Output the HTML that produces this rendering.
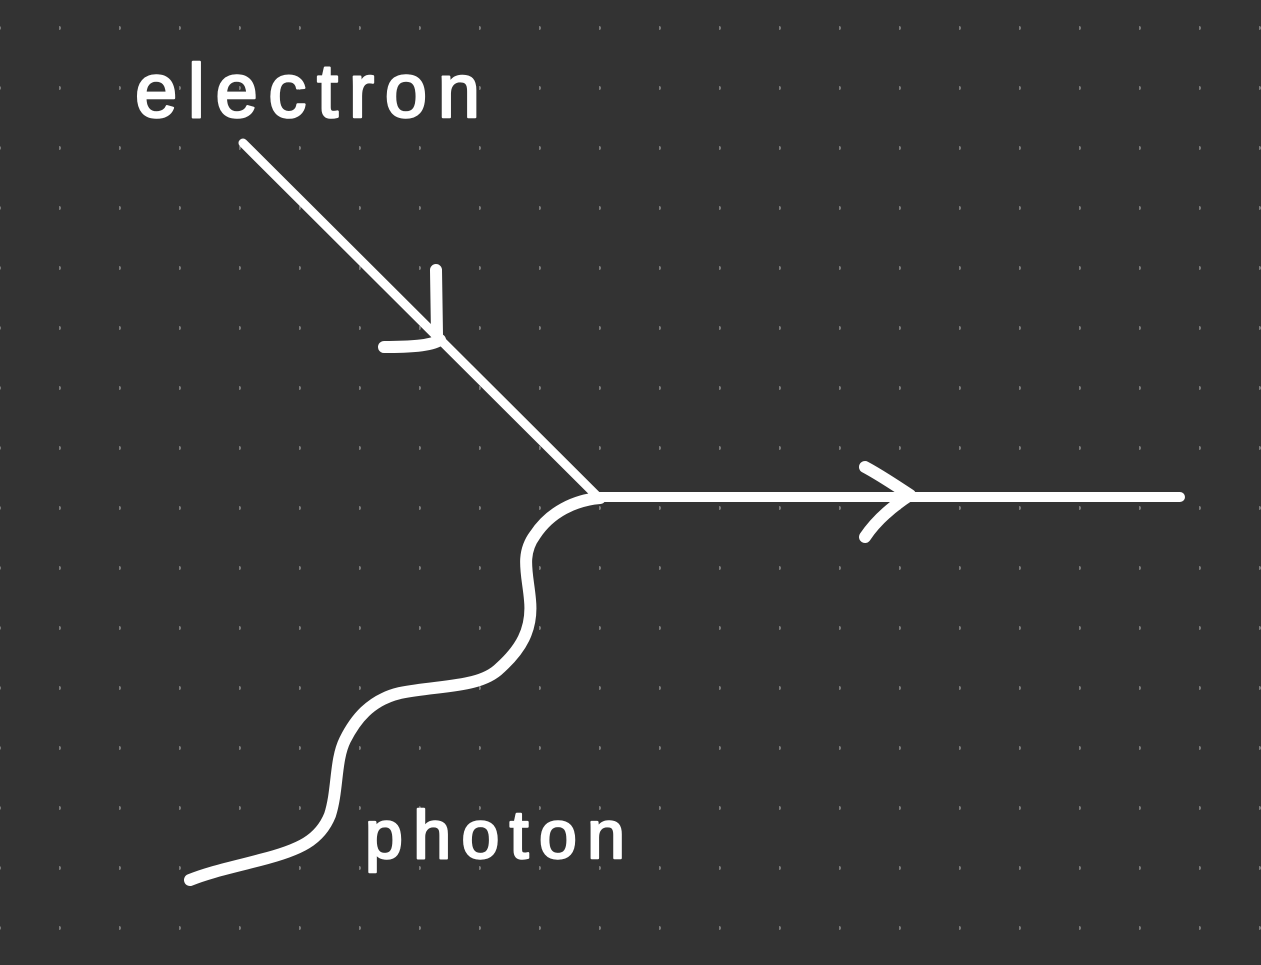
<!DOCTYPE html>
<html><head><meta charset="utf-8"><style>
html,body{margin:0;padding:0;background:#333;}
svg{display:block}
</style></head><body>
<svg width="1261" height="965" viewBox="0 0 1261 965" xmlns="http://www.w3.org/2000/svg">
<defs>
<pattern id="dots" x="-1" y="-2" width="60" height="60" patternUnits="userSpaceOnUse">
<circle cx="0" cy="30" r="2" fill="#7a7a7a"/>
</pattern>
</defs>
<rect width="1261" height="965" fill="#333333"/>
<rect width="1261" height="965" fill="url(#dots)"/>
<g fill="none" stroke="#fff" stroke-linecap="round" stroke-linejoin="round">
<path d="M243,143 L598,497" stroke-width="9"/>
<path d="M436,270 L437,335" stroke-width="12"/>
<path d="M384,347 C410,347 430,346 440,340" stroke-width="12"/>
<path d="M597,497 L1180,497" stroke-width="10"/>
<path d="M865,467 C880,475 895,485 910,495 C890,508 875,522 865,537" stroke-width="12"/>
<path d="M600,498 C575,500 550,512 535,535 C520,555 528,575 530,600 C533,630 520,650 500,668 C480,688 440,685 400,693 C370,700 355,720 345,740 C335,760 338,790 330,815 C320,840 300,850 260,860 C230,868 210,872 190,880" stroke-width="12"/>
</g>
<g fill="#fff" stroke="#fff" stroke-width="2.5" stroke-linejoin="round" font-family="'Liberation Sans', sans-serif">
<text x="135" y="117" font-size="76" textLength="345" lengthAdjust="spacing">electron</text>
<text x="365" y="858" font-size="68" textLength="260" lengthAdjust="spacing">photon</text>
</g>
</svg>
</body></html>
